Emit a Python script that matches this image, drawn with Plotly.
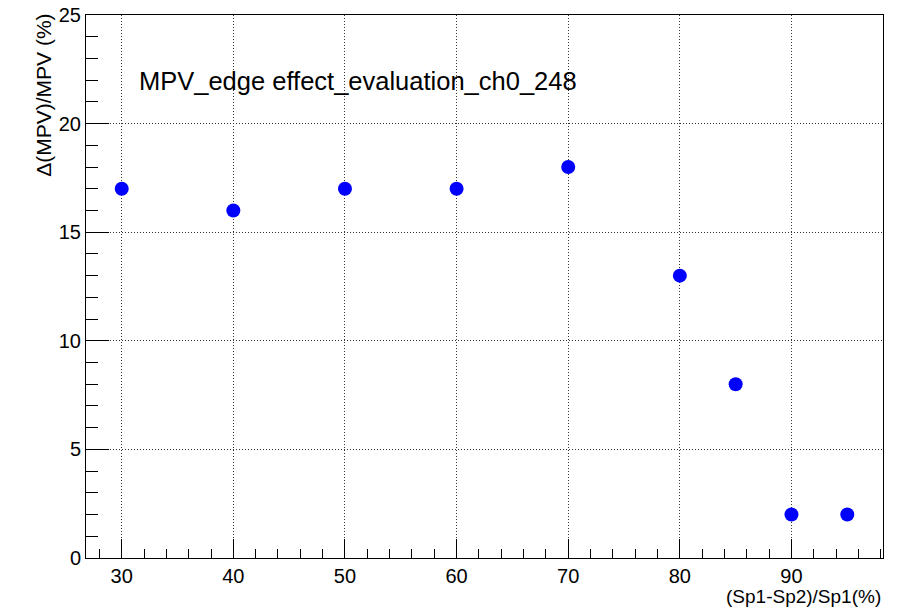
import plotly.graph_objects as go

x_vals = [30, 40, 50, 60, 70, 80, 85, 90, 95]
y_vals = [17, 16, 17, 17, 18, 13, 8, 2, 2]
title_text = "MPV_edge effect_evaluation_ch0_248"
x_title = "(Sp1-Sp2)/Sp1(%)"
y_title = "Δ(MPV)/MPV (%)"

W, H = 897, 609
L, R, T, B = 86, 14, 15, 51

fig = go.Figure()
fig.add_trace(go.Scatter(x=x_vals, y=y_vals, mode="markers",
                         marker=dict(color="#0000ff", size=14, line=dict(width=0))))

font = "Liberation Sans, Arial, sans-serif"
grid = dict(showgrid=True, gridcolor="#333333", griddash="1px,2px", gridwidth=1)
fig.update_layout(
    template="none",
    width=W, height=H,
    margin=dict(l=L, r=R, t=T, b=B, pad=0),
    paper_bgcolor="white", plot_bgcolor="white",
    showlegend=False,
    font=dict(family=font, size=20, color="black"),
    xaxis=dict(range=[26.8, 98.2], tick0=0, dtick=10, ticks="inside", ticklen=19,
               tickcolor="black", tickwidth=1, automargin=False,
               showline=True, linecolor="black", linewidth=1, mirror=True,
               zeroline=False, tickfont=dict(size=20), **grid,
               minor=dict(dtick=2, tick0=0, ticks="inside", ticklen=9, tickcolor="black", showgrid=False)),
    yaxis=dict(range=[0, 25], tick0=0, dtick=5, ticks="inside", ticklen=23,
               tickcolor="black", tickwidth=1, automargin=False,
               showline=True, linecolor="black", linewidth=1, mirror=True,
               zeroline=False, tickfont=dict(size=20), **grid,
               minor=dict(dtick=1, tick0=0, ticks="inside", ticklen=12, tickcolor="black", showgrid=False)),
)

pw = W - L - R
ph = H - T - B
fig.add_annotation(text=title_text, xref="paper", yref="paper",
                   x=(137 - L) / pw, y=(H - B - 81) / ph, xanchor="left", yanchor="middle",
                   showarrow=False, font=dict(size=25.5, family=font))
fig.add_annotation(text=x_title, xref="paper", yref="paper",
                   x=1, y=-(596 - (H - B)) / ph, xanchor="right", yanchor="middle",
                   showarrow=False, font=dict(size=19, family=font))
fig.add_annotation(text=y_title, xref="paper", yref="paper",
                   x=(44 - L) / pw, y=1.005, xanchor="center", yanchor="top", textangle=-90,
                   showarrow=False, font=dict(size=21, family=font))

fig.write_html("out.html")
